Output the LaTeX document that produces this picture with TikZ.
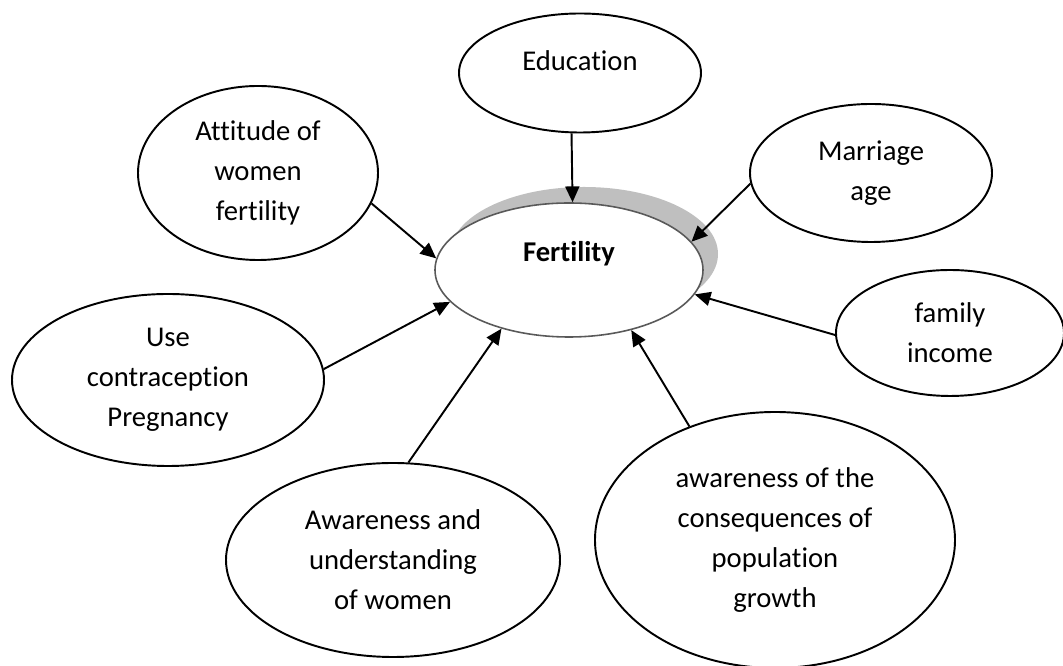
\documentclass[tikz,border=0pt]{standalone}
\usepackage{fontspec}
\setmainfont{Carlito}[Ligatures=NoCommon]
\usetikzlibrary{shapes.geometric,positioning,shadows,arrows.meta}

\begin{document}
\begin{tikzpicture}[on grid,
    factor/.style={ellipse, draw, line width=1.1pt, inner sep=0pt, align=center,
                   font=\fontsize{16.3}{22.8}\selectfont},
    link/.style={line width=1.1pt, -{Triangle[length=9pt, width=8pt]}}
  ]
    \useasboundingbox (0,0) rectangle (21.26,-13.32);

    \begin{scope}
        % Central fertility node
        \node[factor, draw=gray!70!black, line width=0.9pt, fill=white,
              minimum width=5.36cm, minimum height=2.68cm,
              text height=11.5pt, text depth=20.6pt,
              font=\fontsize{16.3}{22.8}\selectfont\bfseries,
              drop shadow={shadow xshift=0.3cm, shadow yshift=0.32cm,
                           fill=gray!50, opacity=1}]
              (fert) at (11.38,-5.4) {Fertility};

        % Factor nodes around it
        \node[factor, minimum width=4.84cm, minimum height=2.38cm,
              text height=11.5pt, text depth=13.8pt,
              above right=3.94cm and 0.22cm of fert] (edu) {Education};
        \node[factor, minimum width=4.8cm, minimum height=3.48cm,
              above left=1.94cm and 6.22cm of fert] (att)
              {Attitude of\\ women\\ fertility};
        \node[factor, minimum width=4.84cm, minimum height=2.76cm,
              above right=1.94cm and 6.04cm of fert] (mar)
              {Marriage\\ age};
        \node[factor, minimum width=4.56cm, minimum height=2.52cm,
              below right=1.26cm and 7.62cm of fert] (fam)
              {family\\ income};
        \node[factor, minimum width=6.24cm, minimum height=3.44cm,
              below left=2.2cm and 8.02cm of fert] (use)
              {Use\\ contraception\\ Pregnancy};
        \node[factor, minimum width=6.68cm, minimum height=3.88cm,
              below left=5.8cm and 3.52cm of fert] (awu)
              {Awareness and\\ understanding\\ of women};
        \node[factor, minimum width=7.2cm, minimum height=5.12cm,
              below right=5.4cm and 4.12cm of fert] (con)
              {awareness of the\\ consequences of\\ population\\ growth};

        % Arrows into fertility
        \draw[link] (edu.262) -- (fert.87);
        \draw[link] (att.-15) -- (fert.175);
        \draw[link] (mar.185) -- (fert.13);
        \draw[link] (fam.181) -- (fert.-11);
        \draw[link] (use.4) -- (fert.195);
        \draw[link] (awu.81) -- (fert.221);
        \draw[link] (con.127) -- (fert.-44);
    \end{scope}
\end{tikzpicture}
\end{document}
